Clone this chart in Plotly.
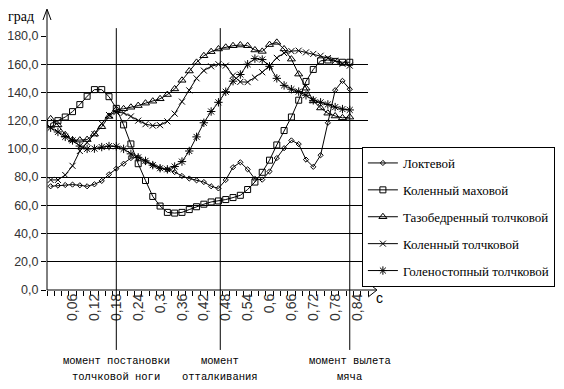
import plotly.graph_objects as go

# time, s (category positions)
t = [0.00, 0.02, 0.04, 0.06, 0.08, 0.10, 0.12, 0.14, 0.16, 0.18,
     0.20, 0.22, 0.24, 0.26, 0.28, 0.30, 0.32, 0.34, 0.36, 0.38,
     0.40, 0.42, 0.44, 0.46, 0.48, 0.50, 0.52, 0.54, 0.56, 0.58,
     0.60, 0.62, 0.64, 0.66, 0.68, 0.70, 0.72, 0.74, 0.76, 0.78,
     0.80, 0.82]

loktevoi = [73.5, 74, 74.4, 74.7, 74.2, 73.5, 74.9, 77.3, 82, 86,
            89.5, 93.5, 94, 91, 88.5, 86.3, 85.3, 83.6, 80.8, 79,
            77.7, 76.5, 73.5, 72, 78, 87, 90.5, 85.5, 78.7, 78.2,
            84, 93.5, 100.5, 106, 103.4, 92.4, 87.3, 95.5, 118.5, 141.6,
            148.2, 142.3]

koleni_makh = [118, 120, 122.6, 126.4, 131.4, 137.3, 142, 142, 137, 128.7,
               117, 103.5, 89.5, 77.6, 66.3, 59.5, 55, 54.5, 55, 57,
               59, 60.8, 62.4, 63.1, 64.1, 65.5, 67.1, 71.2, 76.5, 83.4,
               92, 102.8, 113, 122.6, 134.5, 147.8, 156.3, 162.4, 163, 162,
               161.4, 161.4]

tazobedr = [121.3, 117, 110, 106.3, 106.2, 106.6, 110.5, 115.7, 123, 127.9,
            128.4, 129.5, 130.7, 132.4, 133.8, 135.5, 138.5, 142.5, 148.6, 155.2,
            161.3, 166, 168.9, 170.8, 172, 173.1, 173.6, 173.1, 170.1, 169.1,
            173.9, 175.5, 170.8, 163.6, 153, 143, 134, 129, 125.3, 123.3,
            122, 122.5]

koleni_tolch = [78, 78, 81.5, 88, 98.5, 104.5, 110.5, 118, 124, 126,
                125.5, 123, 120, 117.5, 116.5, 116.8, 119.5, 125, 133.5, 141.5,
                150, 155.5, 158.5, 160, 159, 152, 147.5, 147.3, 150.5, 154.3,
                159, 164.5, 167.9, 169.3, 169.6, 168.4, 167.3, 166, 164.4, 162.5,
                160.3, 159]

goleno = [115, 112, 108.5, 106, 102, 100, 100.2, 101.3, 102, 101.8,
          100, 96.5, 94, 91.5, 88.5, 86.3, 85.5, 87.5, 91, 98.5,
          108.5, 118.5, 126.5, 133, 140.5, 148, 152.7, 160, 164, 163.3,
          158.5, 150, 145, 142.3, 140.6, 138, 134.4, 133, 131.5, 129.6,
          128.2, 127.6]

series_names = ["Локтевой", "Коленный маховой", "Тазобедренный толчковой",
                "Коленный толчковой", "Голеностопный толчковой"]
series_values = [loktevoi, koleni_makh, tazobedr, koleni_tolch, goleno]
markers = [("diamond-open", 4), ("square-open", 6), ("triangle-up-open", 7),
           ("x-thin-open", 6), ("asterisk-open", 7)]

x_tickvals = [0.06, 0.12, 0.18, 0.24, 0.30, 0.36, 0.42, 0.48, 0.54, 0.60,
              0.66, 0.72, 0.78, 0.84]
x_ticktext = ["0,06", "0,12", "0,18", "0,24", "0,3", "0,36", "0,42", "0,48",
              "0,54", "0,6", "0,66", "0,72", "0,78", "0,84"]
y_tickvals = [0, 20, 40, 60, 80, 100, 120, 140, 160, 180]
y_ticktext = ["0,0", "20,0", "40,0", "60,0", "80,0", "100,0", "120,0",
              "140,0", "160,0", "180,0"]

event_t = [0.18, 0.465, 0.82]
event_line1 = ["момент постановки", "момент", "момент вылета"]
event_line2 = ["толчковой ноги", "отталкивания", "мяча"]

fig = go.Figure()
for name, vals, (sym, sz) in zip(series_names, series_values, markers):
    fig.add_trace(go.Scatter(
        x=t, y=vals, name=name, mode="lines+markers", legendgroup=name,
        line=dict(color="black", width=1),
        marker=dict(symbol=sym, size=sz, color="black",
                    line=dict(color="black", width=1)),
    ))

shapes = []
for et in event_t:
    shapes.append(dict(type="line", xref="x", yref="paper", x0=et, x1=et,
                       y0=-0.236, y1=1.031, line=dict(color="black", width=1)))
# axis extensions and arrows
shapes.append(dict(type="line", xref="paper", yref="paper", x0=0, x1=0,
                   y0=0, y1=1.10, line=dict(color="black", width=1)))
shapes.append(dict(type="path", xref="paper", yref="paper",
                   path="M -0.0125,1.063 L 0,1.106 L 0.0125,1.063",
                   line=dict(color="black", width=1)))
shapes.append(dict(type="line", xref="paper", yref="paper", x0=0, x1=1.025,
                   y0=0, y1=0, line=dict(color="black", width=1)))
shapes.append(dict(type="path", xref="paper", yref="paper",
                   path="M 1.0,0.028 L 1.028,0 L 1.0,-0.028",
                   line=dict(color="black", width=1)))

annotations = []
evfont = dict(family="Liberation Mono", size=10.5, color="black")
for et, l1, l2 in zip(event_t, event_line1, event_line2):
    annotations.append(dict(x=et, xref="x", y=-0.28, yref="paper", text=l1,
                            showarrow=False, yanchor="middle", font=evfont))
    annotations.append(dict(x=et, xref="x", y=-0.343, yref="paper", text=l2,
                            showarrow=False, yanchor="middle", font=evfont))
annotations.append(dict(x=0, xref="paper", y=1.075, yref="paper", xanchor="right",
                        yanchor="middle", xshift=-11, text="град", showarrow=False,
                        font=dict(family="Liberation Serif", size=14, color="black")))
annotations.append(dict(x=1.035, xref="paper", y=-0.03, yref="paper", xanchor="center",
                        yanchor="middle", text="с", showarrow=False,
                        font=dict(family="Liberation Sans", size=14, color="black")))

fig.update_layout(
    width=556, height=381,
    margin=dict(l=39, r=196, t=28, b=99, autoexpand=False),
    paper_bgcolor="white", plot_bgcolor="white",
    showlegend=True,
    legend=dict(x=0.981, y=0.563, xanchor="left", yanchor="top",
                bordercolor="black", borderwidth=1, bgcolor="white",
                font=dict(family="Liberation Serif", size=13, color="black"),
                itemwidth=30, tracegroupgap=7),
    shapes=shapes, annotations=annotations,
)
fig.update_xaxes(range=[-0.01, 0.87], tickvals=x_tickvals, ticktext=x_ticktext,
                 tickangle=-90, ticks="", showgrid=False, zeroline=False,
                 showline=False, automargin=False,
                 tickfont=dict(family="Liberation Sans", size=14, color="#333"),
                 minor=dict(tick0=-0.01, dtick=0.02, ticks="outside", ticklen=5,
                            tickcolor="black", showgrid=False))
fig.update_yaxes(range=[0, 180], tickvals=y_tickvals, ticktext=y_ticktext,
                 ticks="outside", ticklen=5, tickcolor="black",
                 showgrid=True, gridcolor="black", gridwidth=1.2,
                 zeroline=False, showline=False, automargin=False,
                 tickfont=dict(family="Liberation Sans", size=12.5, color="#333"))

fig.write_html("out.html")
